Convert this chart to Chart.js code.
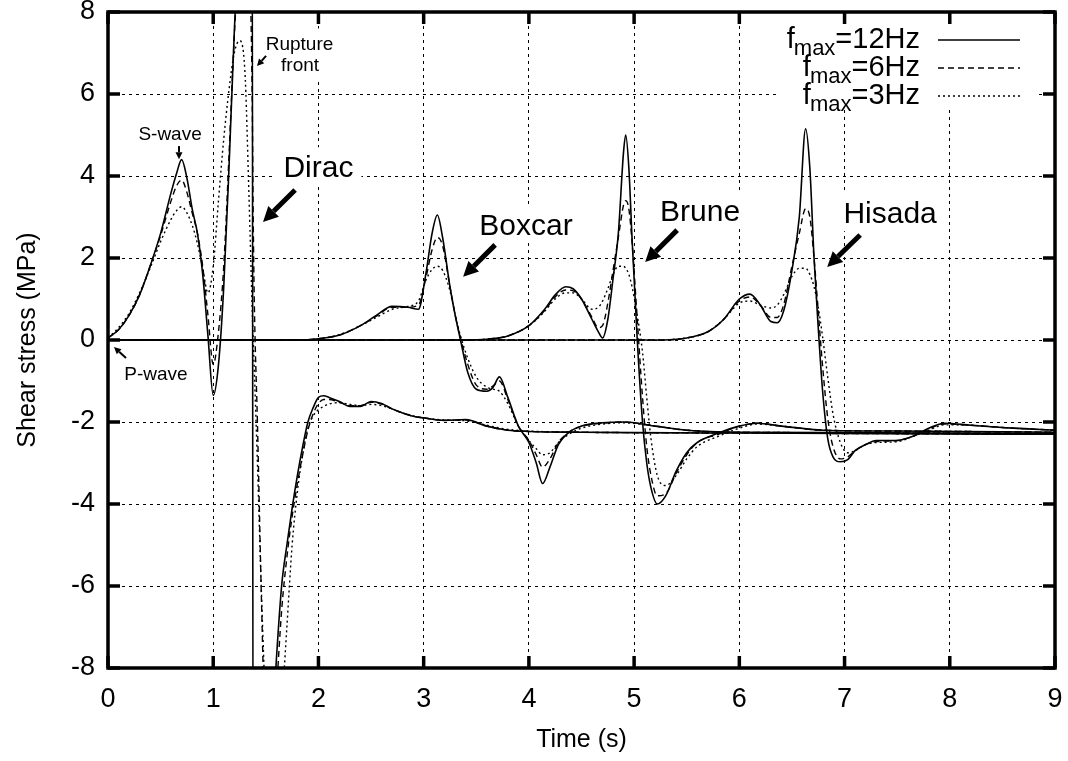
<!DOCTYPE html>
<html>
<head>
<meta charset="utf-8">
<script src="https://cdn.jsdelivr.net/npm/chart.js@4.4.1/dist/chart.umd.min.js"></script>
<style>
  html, body { margin: 0; padding: 0; background: #fff; }
  #wrap { width: 1068px; height: 761px; position: relative; }
</style>
</head>
<body>
<div id="wrap"><canvas id="stressChart"></canvas></div>
<script>
const FONT = '"Liberation Sans", Arial, Helvetica, sans-serif';

// Dirac source
const diracTime = [0, 0.1, 0.2, 0.3, 0.4, 0.5, 0.6, 0.65, 0.7, 0.75, 0.8, 0.85, 0.9, 0.95,
    1.0, 1.05, 1.1, 1.15, 1.2, 1.25, 1.3, 1.34, 1.37, 1.38, 1.39, 1.42, 1.46, 1.5,
    1.55, 1.6, 1.65, 1.7, 1.75, 1.8, 1.85, 1.9, 1.95, 2.0, 2.05, 2.1,
    2.2, 2.3, 2.4, 2.5, 2.6, 2.7, 2.8, 2.9, 3.0, 3.2, 3.4, 3.6, 3.8, 4.0,
    4.5, 5.0, 6.0, 7.0, 8.0, 9.0];
const dirac12 = [0.05, 0.25, 0.6, 1.1, 1.8, 2.6, 3.6, 4.05, 4.4, 3.95, 3.2, 2.6, 1.6, 0.1,
    -1.35, -0.6, 1.3, 4.2, 7.5, 10, 11, 12, 12.5, -14, -14, -13.5, -13, -12,
    -10, -7.8, -6.0, -5.0, -4.1, -3.3, -2.6, -2.0, -1.65, -1.4, -1.36, -1.4,
    -1.5, -1.62, -1.62, -1.5, -1.55, -1.68, -1.78, -1.86, -1.9, -1.96, -1.94, -2.1, -2.2, -2.23,
    -2.25, -2.26, -2.27, -2.28, -2.29, -2.3];
const dirac6 = [0.05, 0.25, 0.6, 1.1, 1.8, 2.55, 3.4, 3.75, 3.9, 3.6, 3.1, 2.6, 1.8, 0.6,
    -0.6, 0.2, 1.8, 4.5, 7.4, 9.5, 10, 9.5, 6, 3, 1, -2, -6.5, -10,
    -10.5, -8.6, -6.6, -5.3, -4.3, -3.5, -2.8, -2.2, -1.8, -1.55, -1.45, -1.45,
    -1.52, -1.6, -1.6, -1.52, -1.56, -1.68, -1.78, -1.86, -1.9, -1.96, -1.95, -2.1, -2.2, -2.23,
    -2.25, -2.26, -2.27, -2.28, -2.29, -2.3];
const dirac3 = [0.05, 0.3, 0.65, 1.15, 1.75, 2.4, 2.95, 3.15, 3.25, 3.1, 2.8, 2.35, 1.75, 1.15,
    1.8, 3.4, 4.9, 6.1, 7.0, 7.3, 6.6, 3.5, 0.8, 0, -0.7, -3, -6.3, -9,
    -10.5, -10.5, -9.0, -7.0, -5.0, -3.7, -2.8, -2.15, -1.85, -1.7, -1.62, -1.56,
    -1.53, -1.57, -1.6, -1.57, -1.6, -1.68, -1.78, -1.85, -1.9, -1.95, -1.97, -2.08, -2.18, -2.22,
    -2.25, -2.26, -2.27, -2.28, -2.29, -2.3];

// Boxcar source
const boxcarTime = [0, 1.8, 2.0, 2.2, 2.4, 2.55, 2.7, 2.85, 2.95, 3.02,
    3.08, 3.13, 3.18, 3.25, 3.3, 3.35, 3.42, 3.5, 3.6, 3.66,
    3.72, 3.8, 3.9, 4.0, 4.07, 4.13, 4.2, 4.28, 4.38, 4.5,
    4.7, 4.9, 5.2, 5.5, 6.0, 7.0, 8.0, 9.0];
const boxcar12 = [0, 0, 0.03, 0.12, 0.35, 0.6, 0.82, 0.8, 0.75, 1.6,
    2.6, 3.05, 2.5, 1.3, 0.6, 0.0, -0.8, -1.2, -1.25, -1.15,
    -0.9, -1.4, -2.1, -2.5, -3.0, -3.5, -3.1, -2.55, -2.25, -2.1,
    -2.02, -2.0, -2.1, -2.2, -2.25, -2.26, -2.27, -2.28];
const boxcar6 = [0, 0, 0.03, 0.12, 0.35, 0.58, 0.8, 0.8, 0.85, 1.5,
    2.2, 2.5, 2.3, 1.3, 0.6, 0.05, -0.6, -1.1, -1.2, -1.12,
    -1.0, -1.45, -2.1, -2.45, -2.8, -3.1, -2.9, -2.5, -2.25, -2.1,
    -2.03, -2.0, -2.1, -2.2, -2.25, -2.26, -2.27, -2.28];
const boxcar3 = [0, 0, 0.03, 0.13, 0.35, 0.55, 0.75, 0.82, 0.95, 1.45,
    1.72, 1.8, 1.7, 1.2, 0.6, 0.1, -0.45, -0.9, -1.15, -1.2,
    -1.25, -1.55, -2.1, -2.45, -2.65, -2.8, -2.75, -2.5, -2.3, -2.15,
    -2.05, -2.02, -2.1, -2.2, -2.25, -2.26, -2.27, -2.28];

// Brune source
const bruneTime = [0, 3.4, 3.6, 3.8, 4.0, 4.15, 4.25, 4.35, 4.42, 4.5,
    4.6, 4.66, 4.7, 4.75, 4.8, 4.85, 4.9, 4.92, 4.95, 4.98,
    5.03, 5.08, 5.12, 5.16, 5.22, 5.3, 5.4, 5.5, 5.6, 5.8,
    6.0, 6.17, 6.4, 6.8, 7.5, 9.0];
const brune12 = [0, 0, 0.02, 0.1, 0.35, 0.75, 1.1, 1.3, 1.25, 1.0,
    0.5, 0.2, 0.05, 0.5, 1.5, 2.6, 4.6, 5.0, 4.2, 2.5,
    0, -2.0, -3.0, -3.6, -4.0, -3.8, -3.2, -2.75, -2.5, -2.27,
    -2.1, -2.03, -2.1, -2.2, -2.22, -2.25];
const brune6 = [0, 0, 0.02, 0.1, 0.35, 0.72, 1.05, 1.22, 1.2, 1.0,
    0.55, 0.3, 0.35, 0.9, 1.7, 2.5, 3.3, 3.4, 3.2, 2.4,
    0.5, -1.4, -2.6, -3.3, -3.8, -3.75, -3.25, -2.8, -2.5, -2.3,
    -2.1, -2.03, -2.1, -2.2, -2.22, -2.25];
const brune3 = [0, 0, 0.02, 0.1, 0.35, 0.7, 1.0, 1.15, 1.15, 1.0,
    0.75, 0.8, 0.95, 1.25, 1.6, 1.8, 1.8, 1.75, 1.6, 1.3,
    0.6, -0.3, -1.4, -2.4, -3.3, -3.55, -3.3, -2.9, -2.6, -2.35,
    -2.15, -2.05, -2.1, -2.2, -2.22, -2.25];

// Hisada source
const hisadaTime = [0, 5.2, 5.5, 5.7, 5.85, 6.0, 6.1, 6.2, 6.3, 6.36,
    6.42, 6.5, 6.57, 6.63, 6.67, 6.71, 6.75, 6.79, 6.84, 6.89,
    6.96, 7.03, 7.1, 7.2, 7.3, 7.5, 7.65, 7.8, 7.95, 8.2,
    8.6, 9.0];
const hisada12 = [0, 0, 0.05, 0.2, 0.5, 1.0, 1.12, 0.85, 0.45, 0.42,
    0.7, 1.7, 3.0, 5.15, 4.2, 2.0, 0.3, -1.2, -2.4, -2.85,
    -2.97, -2.92, -2.7, -2.55, -2.45, -2.45, -2.35, -2.15, -2.03, -2.08,
    -2.15, -2.2];
const hisada6 = [0, 0, 0.05, 0.2, 0.5, 0.95, 1.05, 0.85, 0.55, 0.55,
    0.85, 1.8, 2.6, 3.2, 3.0, 2.0, 0.7, -0.6, -1.9, -2.6,
    -2.9, -2.85, -2.7, -2.55, -2.48, -2.45, -2.35, -2.17, -2.05, -2.08,
    -2.15, -2.2];
const hisada3 = [0, 0, 0.05, 0.2, 0.5, 0.9, 0.95, 0.85, 0.78, 0.85,
    1.1, 1.55, 1.75, 1.75, 1.6, 1.3, 0.8, 0.1, -0.9, -1.8,
    -2.5, -2.75, -2.7, -2.55, -2.5, -2.48, -2.35, -2.2, -2.07, -2.08,
    -2.15, -2.2];

const xTickValues = [0, 1, 2, 3, 4, 5, 6, 7, 8, 9];
const yTickValues = [-8, -6, -4, -2, 0, 2, 4, 6, 8];
const legendValues = ['12Hz', '6Hz', '3Hz'];

// labels placed on the plot (data units: baseline centre)
const notes = [
    { text: 'Rupture', t: 1.82, v: 7.07, size: 19 },
    { text: 'front', t: 1.825, v: 6.56, size: 19 },
    { text: 'S-wave', t: 0.59, v: 4.88, size: 19 },
    { text: 'P-wave', t: 0.456, v: -0.98, size: 19 },
    { text: 'Dirac', t: 2.0, v: 3.98, size: 30 },
    { text: 'Boxcar', t: 3.973, v: 2.56, size: 30 },
    { text: 'Brune', t: 5.627, v: 2.90, size: 30 },
    { text: 'Hisada', t: 7.433, v: 2.85, size: 30 }
];
const arrows = [
    { from: [1.502, 6.93], to: [1.416, 6.68], w: 2, head: 7 },
    { from: [0.675, 4.73], to: [0.675, 4.41], w: 2, head: 7 },
    { from: [0.171, -0.44], to: [0.057, -0.17], w: 2, head: 7 },
    { from: [1.778, 3.66], to: [1.473, 2.88], w: 5, head: 15 },
    { from: [3.679, 2.32], to: [3.375, 1.54], w: 5, head: 15 },
    { from: [5.409, 2.68], to: [5.105, 1.90], w: 5, head: 15 },
    { from: [7.148, 2.56], to: [6.835, 1.78], w: 5, head: 15 }
];

const dashes = [[], [6, 4], [2, 3]];

function drawArrow(ctx, x1, y1, x2, y2, w, head) {
    const ang = Math.atan2(y2 - y1, x2 - x1);
    const bx = x2 - head * Math.cos(ang);
    const by = y2 - head * Math.sin(ang);
    const hw = head * 0.5;
    ctx.lineWidth = w;
    ctx.beginPath();
    ctx.moveTo(x1, y1);
    ctx.lineTo(bx, by);
    ctx.stroke();
    ctx.beginPath();
    ctx.moveTo(x2, y2);
    ctx.lineTo(bx + hw * Math.sin(ang), by - hw * Math.cos(ang));
    ctx.lineTo(bx - hw * Math.sin(ang), by + hw * Math.cos(ang));
    ctx.closePath();
    ctx.fill();
}

const overlayPlugin = {
    id: 'overlay',
    beforeDatasetsDraw(chart) {
        const { ctx, chartArea: area, scales: { x, y } } = chart;
        ctx.save();
        ctx.fillStyle = '#ffffff';
        // key background
        ctx.fillRect(area.right - 275, area.top + 3, 257, 93);
        notes.forEach(n => {
            ctx.font = n.size + 'px ' + FONT;
            const w = ctx.measureText(n.text).width;
            const cx = x.getPixelForValue(n.t);
            const by = y.getPixelForValue(n.v);
            const cap = n.size * 0.72;
            ctx.fillRect(cx - w / 2 - 8, by - cap - 8, w + 16, cap + 16);
        });
        ctx.restore();
    },
    afterDatasetsDraw(chart) {
        const { ctx, chartArea: area, scales: { x, y } } = chart;
        ctx.save();
        ctx.strokeStyle = '#000';
        ctx.fillStyle = '#000';
        ctx.setLineDash([]);

        // frame and inward ticks
        ctx.lineWidth = 3.5;
        ctx.strokeRect(area.left, area.top, area.right - area.left, area.bottom - area.top);
        ctx.beginPath();
        xTickValues.forEach(v => {
            const px = x.getPixelForValue(v);
            ctx.moveTo(px, area.bottom);
            ctx.lineTo(px, area.bottom - 12);
            ctx.moveTo(px, area.top);
            ctx.lineTo(px, area.top + 12);
        });
        yTickValues.forEach(v => {
            const py = y.getPixelForValue(v);
            ctx.moveTo(area.left, py);
            ctx.lineTo(area.left + 12, py);
            ctx.moveTo(area.right, py);
            ctx.lineTo(area.right - 12, py);
        });
        ctx.stroke();

        // labels and arrows
        ctx.textAlign = 'center';
        ctx.textBaseline = 'alphabetic';
        notes.forEach(n => {
            ctx.font = n.size + 'px ' + FONT;
            ctx.fillText(n.text, x.getPixelForValue(n.t), y.getPixelForValue(n.v));
        });
        arrows.forEach(a => {
            drawArrow(ctx,
                x.getPixelForValue(a.from[0]), y.getPixelForValue(a.from[1]),
                x.getPixelForValue(a.to[0]), y.getPixelForValue(a.to[1]),
                a.w, a.head);
        });

        // key
        const textRight = area.right - 135;
        ctx.textAlign = 'left';
        legendValues.forEach((val, i) => {
            const base = area.top + 36 + i * 28;
            const mainFont = '29px ' + FONT;
            const subFont = '22px ' + FONT;
            ctx.font = mainFont;
            const tail = '=' + val;
            const wTail = ctx.measureText(tail).width;
            const wF = ctx.measureText('f').width;
            ctx.font = subFont;
            const wSub = ctx.measureText('max').width;
            const xTail = textRight - wTail;
            const xSub = xTail - wSub;
            ctx.fillText('max', xSub, base + 7);
            ctx.font = mainFont;
            ctx.fillText(tail, xTail, base);
            ctx.fillText('f', xSub - wF + 1, base);

            ctx.lineWidth = 1.5;
            ctx.setLineDash(dashes[i]);
            ctx.beginPath();
            ctx.moveTo(area.right - 117, base - 8);
            ctx.lineTo(area.right - 35, base - 8);
            ctx.stroke();
            ctx.setLineDash([]);
        });
        ctx.restore();
    }
};

document.addEventListener('DOMContentLoaded', () => {
    const canvas = document.getElementById('stressChart');
    if (!canvas || !window.Chart) {
        return;
    }

    const sources = [
        { time: diracTime, series: [dirac12, dirac6, dirac3] },
        { time: boxcarTime, series: [boxcar12, boxcar6, boxcar3] },
        { time: bruneTime, series: [brune12, brune6, brune3] },
        { time: hisadaTime, series: [hisada12, hisada6, hisada3] }
    ];

    const datasets = [];
    // dotted first, solid last so it sits on top
    [2, 1, 0].forEach(k => {
        sources.forEach(src => {
            datasets.push({
                label: 'fmax=' + legendValues[k],
                data: src.time.map((t, i) => ({ x: t, y: src.series[k][i] })),
                borderColor: '#000',
                borderWidth: k === 0 ? 1.6 : 1.4,
                borderDash: dashes[k],
                pointRadius: 0,
                fill: false,
                cubicInterpolationMode: 'monotone'
            });
        });
    });

    new Chart(canvas.getContext('2d'), {
        type: 'line',
        data: { datasets },
        options: {
            responsive: true,
            maintainAspectRatio: false,
            animation: false,
            layout: { padding: { top: 12, right: 13, left: 0, bottom: 0 } },
            scales: {
                x: {
                    type: 'linear',
                    min: 0,
                    max: 9,
                    afterBuildTicks: s => { s.ticks = xTickValues.map(v => ({ value: v })); },
                    afterFit: s => {
                        s.height = 93;
                        s.paddingLeft = 0;
                        s.paddingRight = 0;
                    },
                    grid: { color: '#000', lineWidth: 1, drawTicks: false },
                    border: { display: false, dash: [3, 4] },
                    ticks: {
                        color: '#000',
                        padding: 18,
                        font: { family: FONT, size: 27, lineHeight: 1 }
                    },
                    title: {
                        display: true,
                        text: 'Time (s)',
                        color: '#000',
                        font: { family: FONT, size: 25 },
                        padding: { top: 4, bottom: 6 }
                    }
                },
                y: {
                    type: 'linear',
                    min: -8,
                    max: 8,
                    afterBuildTicks: s => { s.ticks = yTickValues.map(v => ({ value: v })); },
                    afterFit: s => {
                        s.width = 108;
                        s.paddingTop = 0;
                        s.paddingBottom = 0;
                    },
                    grid: { color: '#000', lineWidth: 1, drawTicks: false },
                    border: { display: false, dash: [3, 4] },
                    ticks: {
                        color: '#000',
                        padding: 13,
                        font: { family: FONT, size: 27, lineHeight: 1 }
                    },
                    title: {
                        display: true,
                        text: 'Shear stress (MPa)',
                        color: '#000',
                        font: { family: FONT, size: 25 },
                        padding: { top: 13, bottom: 4 }
                    }
                }
            },
            plugins: {
                legend: { display: false },
                tooltip: { enabled: false }
            }
        },
        plugins: [overlayPlugin]
    });
});
</script>
</body>
</html>
